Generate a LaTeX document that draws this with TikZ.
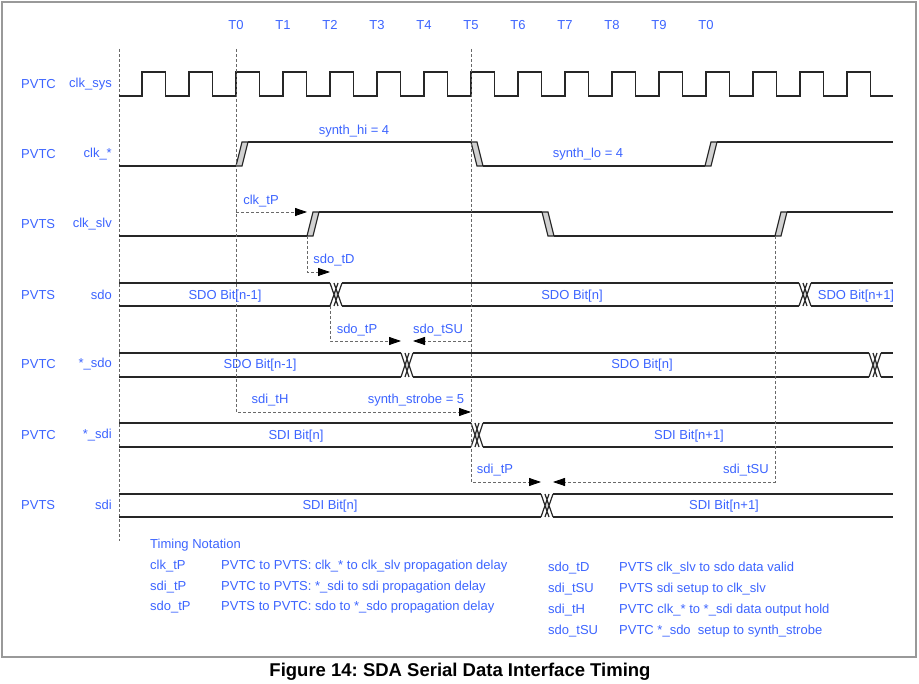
\documentclass[tikz,border=0pt]{standalone}
\usepackage{fontspec}
\setmainfont{Liberation Sans}
\usetikzlibrary{arrows.meta}
\definecolor{txtblue}{RGB}{60,100,255}
\definecolor{tgray}{RGB}{105,105,105}
\frenchspacing

\tikzset{
  wave/.style={line width=1.2pt, draw=black!85},
  slant/.style={wave, fill=black!18},
  tline/.style={draw=tgray, line width=0.8pt, dash pattern=on 3pt off 2pt},
  tarrow/.style={tline, -{Triangle[length=12pt,width=8pt,color=black]}},
  lbl/.style={text=txtblue, inner sep=0pt, font=\fontsize{13}{15}\selectfont},
}

% x, from y, to y
\newcommand{\slantedge}[3]{%
  \filldraw[slant] (#1,#2) -- ({#1+6},#3) -- ({#1+12},#3) -- ({#1+6},#2) -- cycle;}
% x, top y, bottom y
\newcommand{\buscross}[3]{%
  \fill[black!18] ({#1+6},{0.75*#2+0.25*#3}) -- ({#1+8},{0.5*#2+0.5*#3})
    -- ({#1+6},{0.25*#2+0.75*#3}) -- ({#1+4},{0.5*#2+0.5*#3}) -- cycle;
  \draw[wave] (#1,#2) -- ({#1+8},#3) ({#1+4},#2) -- ({#1+12},#3)
    (#1,#3) -- ({#1+8},#2) ({#1+4},#3) -- ({#1+12},#2);}
% x1, x2, top y, bottom y
\newcommand{\busseg}[4]{%
  \draw[wave] (#1,#3) -- (#2,#3) (#1,#4) -- (#2,#4);}

\begin{document}
\begin{tikzpicture}[x=1pt,y=-1pt]
  \useasboundingbox (0,0) rectangle (919,684);
  \draw[black!40, line width=1.2pt] (2,2) rectangle (916,657);

  % time marks
  \foreach \i/\t in {0/T0,1/T1,2/T2,3/T3,4/T4,5/T5,6/T6,7/T7,8/T8,9/T9,10/T0}
    \node[lbl] (tm\i) at ({236+47*\i},25) {\t};

  % signal names
  \foreach \n/\y/\a/\s in {a/84/PVTC/clk\_sys, b/154/PVTC/clk\_*, c/224/PVTS/clk\_slv,
      d/295/PVTS/sdo, e/364/PVTC/*\_sdo, f/435/PVTC/*\_sdi, g/505/PVTS/sdi} {
    \node[lbl, anchor=west] (blk\n) at (21,\y) {\a};
    \node[lbl, anchor=east] (sig\n) at (112,\y) {\s};
  }

  % reference lines
  \coordinate (lefttop) at (119,49);
  \coordinate (leftbot) at (119,541);
  \draw[tline] (lefttop) -- (leftbot);

  % clk_sys
  \draw[wave] (119,96) \foreach \k in {0,...,15} {
      -- ({142+47*\k},96) -- ({142+47*\k},72) -- ({165.5+47*\k},72) -- ({165.5+47*\k},96)}
    -- (893,96);

  % clk_*
  \draw[wave] (119,166) -- (236,166) (248,142) -- (471,142)
    (483,166) -- (705,166) (717,142) -- (893,142);
  \slantedge{236}{166}{142}
  \slantedge{471}{142}{166}
  \slantedge{705}{166}{142}

  % clk_slv
  \draw[wave] (119,236) -- (307,236) (319,212) -- (542,212)
    (554,236) -- (775,236) (787,212) -- (893,212);
  \slantedge{307}{236}{212}
  \slantedge{542}{212}{236}
  \slantedge{775}{236}{212}

  % sdo
  \busseg{119}{330}{283}{306}
  \buscross{330}{283}{306}
  \busseg{342}{799}{283}{306}
  \buscross{799}{283}{306}
  \busseg{811}{893}{283}{306}

  % *_sdo
  \busseg{119}{401}{353}{377}
  \buscross{401}{353}{377}
  \busseg{413}{869}{353}{377}
  \buscross{869}{353}{377}
  \busseg{881}{893}{353}{377}

  % *_sdi
  \busseg{119}{471}{423}{447}
  \buscross{471}{423}{447}
  \busseg{483}{893}{423}{447}

  % sdi
  \busseg{119}{541}{494}{517}
  \buscross{541}{494}{517}
  \busseg{553}{893}{494}{517}

  % timing arrows
  \coordinate (tzero) at (236,49);
  \coordinate (thold) at (236,412);
  \coordinate (strobe) at (471,412);
  \coordinate (tfive) at (471,49);
  \coordinate (tpin) at (471,482);
  \coordinate (sdix) at (541,482);
  \coordinate (sux) at (471,341);
  \coordinate (sdox) at (413,341);
  \coordinate (sdopa) at (330,306);
  \coordinate (sdopb) at (330,341);
  \coordinate (sdopx) at (401,341);
  \coordinate (ctpa) at (236,212);
  \coordinate (ctpx) at (307,212);
  \coordinate (tda) at (307,236);
  \coordinate (tdb) at (307,272);
  \coordinate (tdx) at (330,272);
  \coordinate (sua) at (775,236);
  \coordinate (sub) at (775,482);
  \coordinate (suix) at (553,482);

  \draw[tarrow] (tzero) -- (thold) -- (strobe);
  \draw[tarrow] (tfive) -- (tpin) -- (sdix);
  \draw[tarrow] (sux) -- (sdox);
  \draw[tarrow] (sdopa) -- (sdopb) -- (sdopx);
  \draw[tarrow] (ctpa) -- (ctpx);
  \draw[tarrow] (tda) -- (tdb) -- (tdx);
  \draw[tarrow] (sua) -- (sub) -- (suix);

  % labels on the waves
  \node[lbl] (shi) at (354,131) {synth\_hi = 4};
  \node[lbl] (slo) at (588,154) {synth\_lo = 4};
  \node[lbl] (lctp) at (261,201) {clk\_tP};
  \node[lbl] (ltd) at (334,260) {sdo\_tD};
  \node[lbl] (lstp) at (357,330) {sdo\_tP};
  \node[lbl] (lstsu) at (438,330) {sdo\_tSU};
  \node[lbl] (lsth) at (270,400) {sdi\_tH};
  \node[lbl] (lstr) at (416,400) {synth\_strobe = 5};
  \node[lbl] (lsitp) at (495,470) {sdi\_tP};
  \node[lbl] (lsitsu) at (746,470) {sdi\_tSU};

  \node[lbl] (b1) at (225,296) {SDO Bit[n-1]};
  \node[lbl] (b2) at (572,296) {SDO Bit[n]};
  \node[lbl] (b3) at (856,296) {SDO Bit[n+1]};
  \node[lbl] (b4) at (260,365) {SDO Bit[n-1]};
  \node[lbl] (b5) at (642,365) {SDO Bit[n]};
  \node[lbl] (b6) at (296,436) {SDI Bit[n]};
  \node[lbl] (b7) at (689,436) {SDI Bit[n+1]};
  \node[lbl] (b8) at (330,506) {SDI Bit[n]};
  \node[lbl] (b9) at (724,506) {SDI Bit[n+1]};

  % notation
  \node[lbl, anchor=west] (notehd) at (150,545) {Timing Notation};
  \foreach \n/\y/\k/\d in {1/566/clk\_tP/PVTC to PVTS: clk\_* to clk\_slv propagation delay,
      2/587/sdi\_tP/PVTC to PVTS: *\_sdi to sdi propagation delay,
      3/607/sdo\_tP/PVTS to PVTC: sdo to *\_sdo propagation delay} {
    \node[lbl, anchor=west] (nk\n) at (150,\y) {\k};
    \node[lbl, anchor=west] (nd\n) at (221,\y) {\d};
  }
  \foreach \n/\y/\k/\d in {4/568/sdo\_tD/PVTS clk\_slv to sdo data valid,
      5/589/sdi\_tSU/PVTS sdi setup to clk\_slv,
      6/610/sdi\_tH/PVTC clk\_* to *\_sdi data output hold,
      7/631/sdo\_tSU/PVTC *\_sdo~ setup to synth\_strobe} {
    \node[lbl, anchor=west] (nk\n) at (548,\y) {\k};
    \node[lbl, anchor=west] (nd\n) at (619,\y) {\d};
  }

  % caption
  \node[inner sep=0pt, font=\fontsize{18.5}{21}\selectfont\bfseries] (cap) at (460,672)
    {Figure 14: SDA Serial Data Interface Timing};
\end{tikzpicture}
\end{document}
